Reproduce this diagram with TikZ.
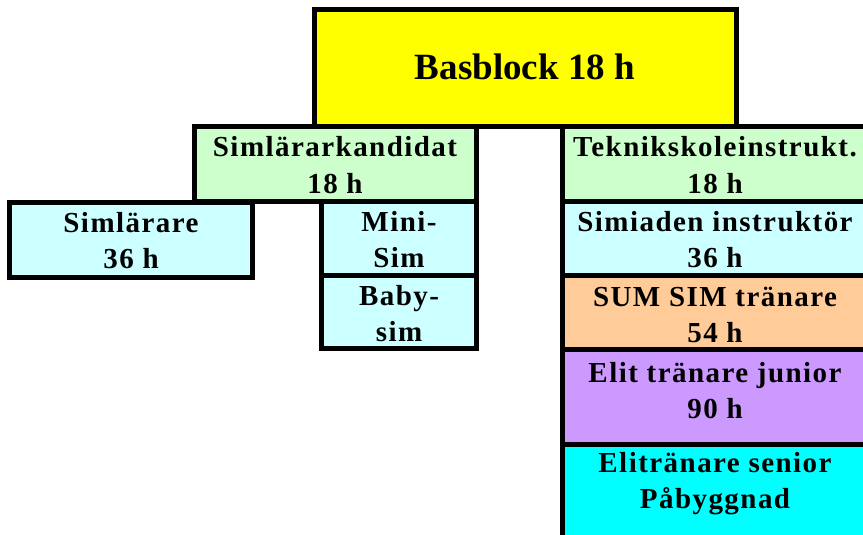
\documentclass[tikz,border=0pt]{standalone}
\usepackage{fontspec}
\setmainfont{Liberation Serif}
\newfontfamily\boxfont{Liberation Serif}[LetterSpace=5]
\definecolor{basyellow}{HTML}{FFFF00}
\definecolor{kandgreen}{HTML}{CCFFCC}
\definecolor{palecyan}{HTML}{CCFFFF}
\definecolor{sumpeach}{HTML}{FFCC99}
\definecolor{elitlilac}{HTML}{CC99FF}
\definecolor{seniorcyan}{HTML}{00FFFF}
\begin{document}
\begin{tikzpicture}[x=1pt, y=-1pt,
    block/.style={draw=black, line width=5pt},
    boxtext/.style={anchor=base, align=center, inner sep=0pt,
        font=\boxfont\bfseries\fontsize{29}{36}\selectfont}]
    \useasboundingbox (0,0) rectangle (863,535);
    \clip (0,0) rectangle (863,535);

    % Draw blocks
    \draw[block, fill=basyellow] (314.5,10) rectangle (736,126.5);
    \draw[block, fill=kandgreen] (194.5,126.5) rectangle (476.5,201.5);
    \draw[block, fill=kandgreen] (562.5,126.5) rectangle (868,201.5);
    \draw[block, fill=palecyan] (9,202.5) rectangle (252.5,277.5);
    \draw[block, fill=palecyan] (321,201.5) rectangle (476.5,275.5);
    \draw[block, fill=palecyan] (321,275.5) rectangle (476.5,348);
    \draw[block, fill=palecyan] (562.5,201.5) rectangle (868,275.5);
    \draw[block, fill=sumpeach] (562.5,275.5) rectangle (868,349.5);
    \draw[block, fill=elitlilac] (562.5,349.5) rectangle (868,444);
    \draw[block, fill=seniorcyan] (562.5,444) rectangle (868,545);

    % Labels (anchored on the last line)
    \node[boxtext, font=\bfseries\fontsize{37}{44}\selectfont] (bas) at (525,80) {Basblock 18 h};
    \node[boxtext] (kand) at (335,193) {Simlärarkandidat\\18 h};
    \node[boxtext] (teknik) at (715,193) {Teknikskoleinstrukt.\\18 h};
    \node[boxtext] (simlarare) at (131,268) {Simlärare\\36 h};
    \node[boxtext] (minisim) at (399,267) {Mini-\\Sim};
    \node[boxtext] (babysim) at (399,341) {Baby-\\sim};
    \node[boxtext] (simiaden) at (715,267) {Simiaden instruktör\\36 h};
    \node[boxtext] (sumsim) at (715,342) {SUM SIM tränare\\54 h};
    \node[boxtext] (junior) at (715,418) {Elit tränare junior\\90 h};
    \node[boxtext] (senior) at (715,508) {Elitränare senior\\Påbyggnad};
\end{tikzpicture}
\end{document}
